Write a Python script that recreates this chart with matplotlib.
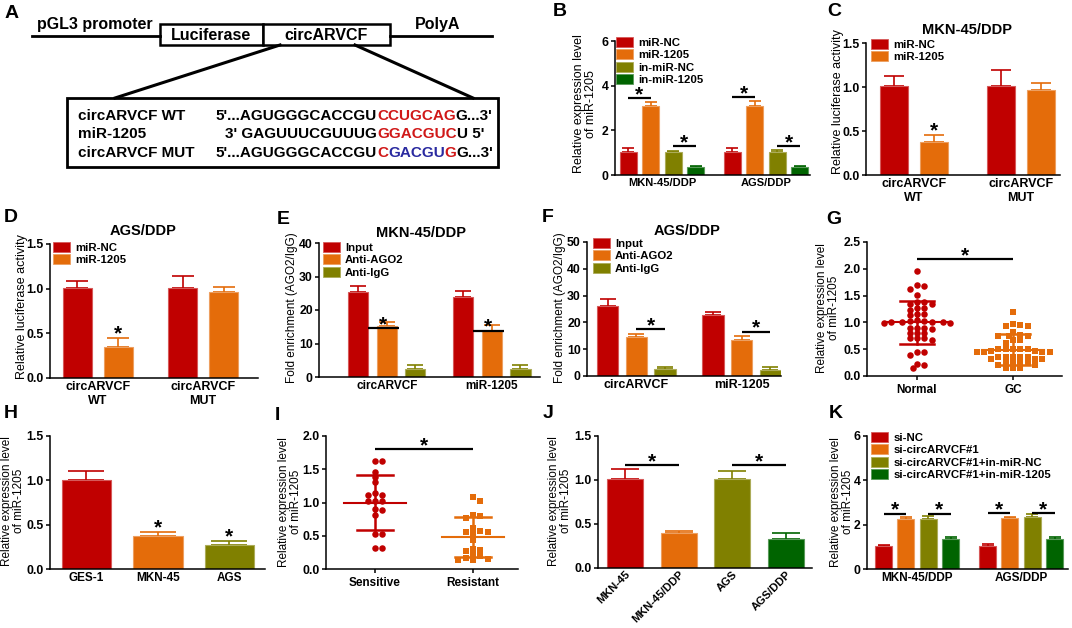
import numpy as np
import matplotlib
matplotlib.use("Agg")
import matplotlib.pyplot as plt
from matplotlib.patches import Patch, Rectangle
from matplotlib.colors import to_rgb

plt.rcParams['font.family'] = ['Liberation Sans', 'DejaVu Sans']

W, H = 1072, 628
RED, ORANGE, OLIVE, GREEN = '#C00000', '#E46C0A', '#808000', '#006400'
SEQ_RED, SEQ_BLUE = '#D01818', '#2A2AA0'

## ---- values ----
# B: miR-1205 level after mimic / inhibitor
b_series = ['miR-NC', 'miR-1205', 'in-miR-NC', 'in-miR-1205']
b_groups = ['MKN-45/DDP', 'AGS/DDP']
b_mkn = [1.03, 3.10, 1.02, 0.38]
b_mkn_sd = [0.18, 0.15, 0.06, 0.04]
b_ags = [1.02, 3.10, 1.02, 0.38]
b_ags_sd = [0.18, 0.20, 0.08, 0.02]
b_sig = [[3.45, 1.30], [3.50, 1.30]]

# C / D: luciferase activity
lu_series = ['miR-NC', 'miR-1205']
lu_groups = ['circARVCF\nWT', 'circARVCF\nMUT']
c_wt = [1.01, 0.375]
c_wt_sd = [0.11, 0.08]
c_mut = [1.01, 0.97]
c_mut_sd = [0.18, 0.08]
d_wt = [1.01, 0.35]
d_wt_sd = [0.08, 0.10]
d_mut = [1.01, 0.96]
d_mut_sd = [0.13, 0.06]

# E / F: RIP assay
rip_series = ['Input', 'Anti-AGO2', 'Anti-IgG']
rip_groups = ['circARVCF', 'miR-1205']
e_circ = [25.5, 15.3, 2.5]
e_circ_sd = [1.7, 1.2, 1.2]
e_mir = [23.8, 13.7, 2.5]
e_mir_sd = [1.9, 1.8, 1.0]
e_sig = [14.5, 13.8]
f_circ = [26.2, 14.4, 2.5]
f_circ_sd = [2.4, 1.3, 0.9]
f_mir = [22.6, 13.6, 2.25]
f_mir_sd = [1.4, 1.3, 1.0]
f_sig = [17.5, 16.5]

# G: tissues
g_groups = ['Normal', 'GC']
g_normal = [1.96, 1.63, 1.69, 1.68, 1.52, 1.38, 1.38, 1.35, 1.34, 1.24, 1.26,
            1.26, 1.16, 1.13, 1.16, 1.02, 1.01, 1.01, 1.02, 0.99, 1.01, 0.99,
            1.01, 1.05, 0.90, 0.87, 0.90, 0.90, 0.80, 0.80, 0.80, 0.70, 0.70,
            0.68, 0.70, 0.45, 0.45, 0.40, 0.21, 0.23, 0.15]
g_gc = [1.19, 0.97, 0.93, 0.93, 0.96, 0.83, 0.75, 0.75, 0.75, 0.76, 0.67,
        0.67, 0.62, 0.51, 0.51, 0.51, 0.50, 0.51, 0.45, 0.45, 0.45, 0.45,
        0.46, 0.46, 0.35, 0.35, 0.35, 0.35, 0.35, 0.31, 0.31, 0.31, 0.24,
        0.24, 0.24, 0.24, 0.21, 0.21, 0.14, 0.14, 0.14]
g_mean = [1.00, 0.49]
g_sd = [0.40, 0.29]

# H: cell lines
h_labels = ['GES-1', 'MKN-45', 'AGS']
h_vals = [1.00, 0.37, 0.27]
h_sd = [0.10, 0.05, 0.045]

# I: sensitive vs resistant patients
i_groups = ['Sensitive', 'Resistant']
i_sens = [1.63, 1.62, 1.46, 1.38, 1.31, 1.15, 1.11, 1.11, 1.02, 1.02, 1.03,
          0.90, 0.88, 0.81, 0.53, 0.52, 0.32, 0.32]
i_res = [1.08, 1.03, 0.81, 0.77, 0.80, 0.57, 0.56, 0.56, 0.52, 0.61, 0.43,
         0.28, 0.27, 0.30, 0.19, 0.15, 0.14, 0.14, 0.17, 0.21]
i_mean = [1.00, 0.48]
i_sd = [0.41, 0.30]

# J: parental vs DDP-resistant lines
j_labels = ['MKN-45', 'MKN-45/DDP', 'AGS', 'AGS/DDP']
j_vals = [1.01, 0.40, 1.01, 0.33]
j_sd = [0.11, 0.02, 0.09, 0.07]

# K: rescue
k_series = ['si-NC', 'si-circARVCF#1', 'si-circARVCF#1+in-miR-NC',
            'si-circARVCF#1+in-miR-1205']
k_mkn = [1.02, 2.27, 2.27, 1.36]
k_mkn_sd = [0.08, 0.06, 0.13, 0.10]
k_ags = [1.02, 2.30, 2.35, 1.36]
k_ags_sd = [0.11, 0.05, 0.12, 0.09]
k_sig = [[2.50, 2.50], [2.53, 2.53]]

fig = plt.figure(figsize=(W / 100, H / 100), dpi=100)


def px_axes(l, t, r, b):
    return fig.add_axes([l / W, 1 - b / H, (r - l) / W, (b - t) / H])


def ftext(x, y, s, **kw):
    return fig.text(x / W, 1 - y / H, s, **kw)


def px_per_unit(ax):
    bb = ax.get_position()
    x0, x1 = ax.get_xlim()
    y0, y1 = ax.get_ylim()
    return bb.width * W / (x1 - x0), bb.height * H / (y1 - y0)


def style(ax, xlim, ylim, yticks, fmt, xtick_len=0):
    ax.set_xlim(xlim)
    ax.set_ylim(ylim)
    ax.patch.set_alpha(0)
    for s in ('top', 'right'):
        ax.spines[s].set_visible(False)
    for s in ('left', 'bottom'):
        ax.spines[s].set_linewidth(1.1)
    ax.set_yticks(yticks)
    ax.set_yticklabels([fmt.format(v) for v in yticks], fontweight='bold')
    ax.tick_params(axis='y', direction='out', length=3, width=1.1, pad=1.5,
                   labelsize=8.8)
    ax.tick_params(axis='x', direction='out', length=xtick_len, width=1.1,
                   pad=2.5)


def lighter(c, f=0.35):
    return tuple(np.array(to_rgb(c)) * (1 - f) + f)


def draw_bars(ax, pos, vals, sds, cols, width):
    ax.bar(pos, vals, width, color=cols, edgecolor=[lighter(c) for c in cols],
           linewidth=0.8, zorder=2)
    sx, _ = px_per_unit(ax)
    cap = width * sx * 0.75 / 2 * 0.72
    for x, v, s, c in zip(pos, vals, sds, cols):
        ax.errorbar(x, v, yerr=[[0], [s]], fmt='none', ecolor=c,
                    elinewidth=1.2, capsize=cap, capthick=1.2, zorder=1)


def grouped(ax, gvals, gsds, cols, gstep, width):
    pos, vals, sds, cs = [], [], [], []
    for g, (vv, ss) in enumerate(zip(gvals, gsds)):
        for j, (v, s) in enumerate(zip(vv, ss)):
            pos.append(g * gstep + j)
            vals.append(v)
            sds.append(s)
            cs.append(cols[j])
    draw_bars(ax, pos, vals, sds, cs, width)
    n = len(gvals[0])
    return [g * gstep + (n - 1) / 2 for g in range(len(gvals))]


def star(ax, x, y):
    ax.annotate('*', xy=(x, y), xytext=(0, -1.5), textcoords='offset points',
                ha='center', va='baseline', fontsize=15, fontweight='bold',
                annotation_clip=False)


def bracket(ax, x1, x2, y):
    ax.plot([x1, x2], [y, y], color='black', lw=1.6, solid_capstyle='butt',
            clip_on=False)
    star(ax, (x1 + x2) / 2, y)


def legend(ax, labels, cols, x, y):
    handles = [Patch(facecolor=c, edgecolor=lighter(c), linewidth=0.6)
               for c in cols]
    ax.legend(handles, labels, loc='upper left',
              bbox_to_anchor=(x / W, 1 - y / H), bbox_transform=fig.transFigure,
              frameon=False, borderpad=0, borderaxespad=0, handlelength=1.45,
              handleheight=0.95, handletextpad=0.5, labelspacing=0.14,
              prop={'weight': 'bold', 'size': 8.2})


def swarm(vals, sx, sy, dx, dy):
    # place points in pixel space, shifting sideways until they do not collide
    order = np.argsort(vals)[::-1]
    step = dx / 2
    cands = [0.0] + [s * k * step for k in range(1, 40) for s in (1, -1)]
    placed = []
    offs = np.zeros(len(vals))
    for idx in order:
        y = vals[idx] * sy
        for c in cands:
            if all(((c - px) / dx) ** 2 + ((y - py) / dy) ** 2 >= 1
                   for px, py in placed):
                break
        placed.append((c, y))
        offs[idx] = c / sx
    return offs


def dots(ax, groups, markers, cols, means, sds):
    sx, sy = px_per_unit(ax)
    for i, (vals, m, c) in enumerate(zip(groups, markers, cols)):
        offs = swarm(np.array(vals), sx, sy, 7.3, 4.5)
        ax.scatter(i + offs, vals, marker=m, s=22, color=c, linewidths=0,
                   zorder=3)
        mu, sd = means[i], sds[i]
        ax.plot([i - 0.32, i + 0.32], [mu, mu], color=c, lw=1.5, zorder=4)
        for yy in (mu - sd, mu + sd):
            ax.plot([i - 0.18, i + 0.18], [yy, yy], color=c, lw=1.8, zorder=4)
        ax.plot([i, i], [mu - sd, mu + sd], color=c, lw=1.8, zorder=4)


def xlabels(ax, ticks, labels, size, **kw):
    ax.set_xticks(ticks)
    ax.set_xticklabels(labels, fontsize=size, fontweight='bold', **kw)


def ylab(x, y, s, size=8.5):
    ftext(x, y, s, rotation=90, ha='center', va='center', fontsize=size,
          linespacing=1.05)


def title(x, y, s):
    ftext(x, y, s, ha='center', va='center', fontsize=10.5, fontweight='bold')


## ---- panel A: reporter construct ----
axA = px_axes(0, 0, 505, 200)
axA.set_xlim(0, 505)
axA.set_ylim(200, 0)
axA.axis('off')
axA.plot([32, 160], [36, 36], color='black', lw=2)
axA.plot([390, 492], [36, 36], color='black', lw=2)
axA.add_patch(Rectangle((160, 24), 103, 21, facecolor='white',
                        edgecolor='black', lw=1.8))
axA.add_patch(Rectangle((263, 24), 127, 21, facecolor='white',
                        edgecolor='black', lw=1.8))
bold = dict(fontsize=11.5, fontweight='bold', va='baseline')
axA.text(37, 29, 'pGL3 promoter', ha='left', **bold)
axA.text(211.5, 40.5, 'Luciferase', ha='center', **bold)
axA.text(326.5, 40.5, 'circARVCF', ha='center', **bold)
axA.text(415, 29, 'PolyA', ha='left', **bold)
axA.plot([280, 115], [45, 98], color='black', lw=2.2)
axA.plot([355, 473], [45, 98], color='black', lw=2.2)
axA.add_patch(Rectangle((67, 98), 431, 69, facecolor='white',
                        edgecolor='black', lw=2))

seq_kw = dict(fontsize=11, fontweight='bold')


def seq_row(y, name, prefix, segs):
    axA.text(78, y, name, va='baseline', **seq_kw)
    first = axA.text(377, y, segs[0][0], color=segs[0][1], va='baseline',
                     **seq_kw)
    axA.annotate(prefix, xy=(0, 0), xycoords=first, ha='right', va='bottom',
                 **seq_kw)
    prev = first
    for s, c in segs[1:]:
        prev = axA.annotate(s, xy=(1, 0), xycoords=prev, ha='left',
                            va='bottom', color=c, **seq_kw)


seq_row(120, 'circARVCF WT', "5'...AGUGGGCACCGU",
        [('CCUGCAG', SEQ_RED), ("G...3'", 'black')])
seq_row(138.5, 'miR-1205', "3' GAGUUUCGUUUG",
        [('GGACGUC', SEQ_RED), ("U 5'", 'black')])
seq_row(157, 'circARVCF MUT', "5'...AGUGGGCACCGU",
        [('C', SEQ_RED), ('GACGU', SEQ_BLUE), ('G', SEQ_RED),
         ("G...3'", 'black')])

cols4 = [RED, ORANGE, OLIVE, GREEN]

## ---- panel B ----
ax = px_axes(615, 41, 810, 175)
style(ax, (-0.58, 8.07), (0, 6), [0, 2, 4, 6], '{:g}')
cen = grouped(ax, [b_mkn, b_ags], [b_mkn_sd, b_ags_sd], cols4, 4.62, 0.76)
for g, (y1, y2) in enumerate(b_sig):
    bracket(ax, g * 4.62, g * 4.62 + 1, y1)
    bracket(ax, g * 4.62 + 2, g * 4.62 + 3, y2)
xlabels(ax, cen, b_groups, 8)
legend(ax, b_series, cols4, 616, 37)
ylab(585, 104, 'Relative expression level\nof miR-1205', 9)

## ---- panel C ----
ax = px_axes(866, 43, 1060, 175)
style(ax, (-0.7, 4.15), (0, 1.5), [0, 0.5, 1.0, 1.5], '{:.1f}')
cen = grouped(ax, [c_wt, c_mut], [c_wt_sd, c_mut_sd], [RED, ORANGE], 2.675, 0.7)
star(ax, 1, c_wt[1] + c_wt_sd[1] + 0.01)
xlabels(ax, cen, lu_groups, 9)
legend(ax, lu_series, [RED, ORANGE], 871, 39)
ylab(838, 102, 'Relative luciferase activity', 9)
title(967, 30, 'MKN-45/DDP')

## ---- panel D ----
ax = px_axes(50, 244, 258, 378)
style(ax, (-0.66, 4.41), (0, 1.5), [0, 0.5, 1.0, 1.5], '{:.1f}')
cen = grouped(ax, [d_wt, d_mut], [d_wt_sd, d_mut_sd], [RED, ORANGE], 2.57, 0.71)
star(ax, 1, d_wt[1] + d_wt_sd[1] + 0.01)
xlabels(ax, cen, lu_groups, 9)
legend(ax, lu_series, [RED, ORANGE], 53, 242)
ylab(22, 307, 'Relative luciferase activity', 9)
title(143, 231, 'AGS/DDP')

## ---- panel E ----
cols3 = [RED, ORANGE, OLIVE]
ax = px_axes(319, 243, 540, 377)
style(ax, (-1.36, 6.34), (0, 40), [0, 10, 20, 30, 40], '{:g}')
cen = grouped(ax, [e_circ, e_mir], [e_circ_sd, e_mir_sd], cols3, 3.66, 0.7)
for g, y in enumerate(e_sig):
    bracket(ax, g * 3.66 + 0.33, g * 3.66 + 1.41, y)
xlabels(ax, cen, rip_groups, 8.5)
legend(ax, rip_series, cols3, 323, 242)
ylab(292, 308, 'Fold enrichment (AGO2/IgG)', 8.5)
title(421, 233, 'MKN-45/DDP')

## ---- panel F ----
ax = px_axes(587, 242, 781, 376)
style(ax, (-0.72, 6.05), (0, 50), [0, 10, 20, 30, 40, 50], '{:g}')
cen = grouped(ax, [f_circ, f_mir], [f_circ_sd, f_mir_sd], cols3, 3.68, 0.74)
for g, y in enumerate(f_sig):
    bracket(ax, g * 3.68 + 1, g * 3.68 + 2, y)
xlabels(ax, cen, rip_groups, 9)
legend(ax, rip_series, cols3, 593, 238)
ylab(560, 308, 'Fold enrichment (AGO2/IgG)', 8.5)
title(687, 231, 'AGS/DDP')

## ---- panel G ----
ax = px_axes(867, 242, 1062, 376)
style(ax, (-0.52, 1.51), (0, 2.5), [0, 0.5, 1.0, 1.5, 2.0, 2.5], '{:.1f}',
      xtick_len=3)
dots(ax, [g_normal, g_gc], ['o', 's'], [RED, ORANGE], g_mean, g_sd)
bracket(ax, 0, 1, 2.18)
xlabels(ax, [0, 1], g_groups, 8.5)
ylab(828, 308, 'Relative expression level\nof miR-1205', 8.5)

## ---- panel H ----
ax = px_axes(50, 436, 265, 569)
style(ax, (-0.51, 2.5), (0, 1.5), [0, 0.5, 1.0, 1.5], '{:.1f}')
draw_bars(ax, range(3), h_vals, h_sd, cols3, 0.69)
for k in (1, 2):
    star(ax, k, h_vals[k] + h_sd[k] + 0.01)
xlabels(ax, range(3), h_labels, 8.5)
ylab(13, 501, 'Relative expression level\nof miR-1205', 8.5)

## ---- panel I ----
ax = px_axes(326, 436, 518, 569)
style(ax, (-0.5, 1.46), (0, 2.0), [0, 0.5, 1.0, 1.5, 2.0], '{:.1f}',
      xtick_len=3)
dots(ax, [i_sens, i_res], ['o', 's'], [RED, ORANGE], i_mean, i_sd)
bracket(ax, 0, 1, 1.8)
xlabels(ax, [0, 1], i_groups, 8.5)
ylab(290, 502, 'Relative expression level\nof miR-1205', 8.5)

## ---- panel J ----
ax = px_axes(598, 436, 812, 568)
style(ax, (-0.5, 3.48), (0, 1.5), [0, 0.5, 1.0, 1.5], '{:.1f}')
draw_bars(ax, range(4), j_vals, j_sd, cols4, 0.67)
bracket(ax, 0, 1, 1.17)
bracket(ax, 2, 3, 1.17)
xlabels(ax, range(4), j_labels, 8, rotation=45, ha='right',
        rotation_mode='anchor')
ax.tick_params(axis='x', pad=1)
ylab(560, 501, 'Relative expression level\nof miR-1205', 8.5)

## ---- panel K ----
ax = px_axes(867, 436, 1068, 569)
style(ax, (-0.74, 8.26), (0, 6), [0, 2, 4, 6], '{:g}')
cen = grouped(ax, [k_mkn, k_ags], [k_mkn_sd, k_ags_sd], cols4, 4.66, 0.76)
for g, (y1, y2) in enumerate(k_sig):
    bracket(ax, g * 4.66, g * 4.66 + 1, y1)
    bracket(ax, g * 4.66 + 2, g * 4.66 + 3, y2)
xlabels(ax, cen, b_groups, 8.5)
legend(ax, k_series, cols4, 871, 432)
ylab(842, 502, 'Relative expression level\nof miR-1205', 8.5)

## ---- panel letters ----
for s, x, y in [('A', 12, 14), ('B', 560, 12), ('C', 834, 12),
                ('D', 11, 218), ('E', 283, 220), ('F', 548, 218),
                ('G', 834, 220), ('H', 11, 414), ('I', 277, 415),
                ('J', 548, 414), ('K', 836, 414)]:
    ftext(x, y, s, ha='center', va='center', fontsize=14, fontweight='bold')

fig.savefig('out.png', dpi=100)
